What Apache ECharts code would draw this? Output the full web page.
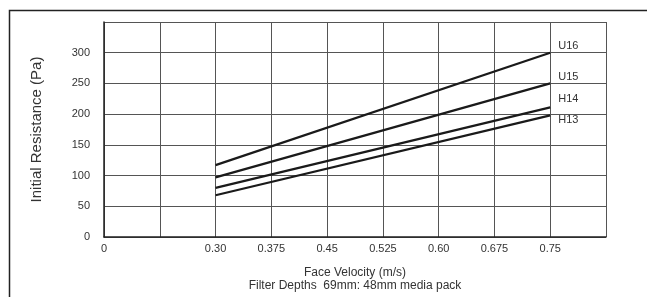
<!DOCTYPE html>
<html>
<head>
<meta charset="utf-8">
<script src="https://cdn.jsdelivr.net/npm/echarts@6/dist/echarts.min.js"></script>
<style>
  html, body { margin: 0; padding: 0; background: #fff; }
  #chart { width: 647px; height: 297px; }
</style>
</head>
<body>
<div id="chart"></div>
<script>
// x ticks run 0.15 .. 0.825 every 0.075; the first is printed as "0"
const xTickLabels = ["0", "", "0.30", "0.375", "0.45", "0.525", "0.60", "0.675", "0.75", ""];
const velocity = [0.30, 0.75];
const seriesNames = ["U16", "U15", "H14", "H13"];
const u16 = [117, 300];
const u15 = [97, 250];
const h14 = [80, 211];
const h13 = [68, 198];
const labelOffsets = [[2, -7], [2, -6], [2, -8], [2, 5]];

const chart = echarts.init(document.getElementById("chart"));
const textColor = "#333";
const font = "Liberation Sans, Arial, sans-serif";

const values = [u16, u15, h14, h13];
const series = values.map((vals, i) => ({
    name: seriesNames[i],
    type: "line",
    data: vals.map((v, j) => [velocity[j], v]),
    symbol: "none",
    lineStyle: { color: "#1a1a1a", width: 2.2 },
    endLabel: {
        show: true,
        formatter: "{a}",
        color: textColor,
        fontFamily: font,
        fontSize: 11,
        distance: 6,
        offset: labelOffsets[i]
    },
    silent: true,
    animation: false
}));

chart.setOption({
    backgroundColor: "#fff",
    animation: false,
    grid: { left: 104, right: 41, top: 22, bottom: 58 },
    xAxis: {
        type: "value",
        min: 0.15,
        max: 0.825,
        interval: 0.075,
        name: "Face Velocity (m/s)\nFilter Depths  69mm: 48mm media pack",
        nameLocation: "middle",
        nameGap: 29,
        nameTextStyle: { color: textColor, fontFamily: font, fontSize: 12, lineHeight: 13 },
        axisLine: { show: true, lineStyle: { color: "#222", width: 1.5 } },
        axisTick: { show: false },
        axisLabel: {
            color: textColor,
            fontFamily: font,
            fontSize: 11,
            margin: 6,
            showMaxLabel: true,
            formatter: (v) => xTickLabels[Math.round((v - 0.15) / 0.075)] ?? ""
        },
        splitLine: { show: true, lineStyle: { color: "#555", width: 1 } }
    },
    yAxis: {
        type: "value",
        min: 0,
        max: 350,
        interval: 50,
        name: "Initial Resistance (Pa)",
        nameLocation: "middle",
        nameGap: 60,
        nameTextStyle: { color: textColor, fontFamily: font, fontSize: 15 },
        axisLine: { show: true, lineStyle: { color: "#222", width: 1.5 } },
        axisTick: { show: false },
        axisLabel: {
            color: textColor,
            fontFamily: font,
            fontSize: 11,
            margin: 14,
            formatter: (v) => (v > 300 ? "" : String(v))
        },
        splitLine: { show: true, lineStyle: { color: "#555", width: 1 } }
    },
    graphic: [
        {
            type: "rect",
            shape: { x: 9.5, y: 10.5, width: 700, height: 400 },
            style: { fill: "none", stroke: "#222", lineWidth: 1.5 },
            silent: true
        }
    ],
    series: series
});
</script>
</body>
</html>
